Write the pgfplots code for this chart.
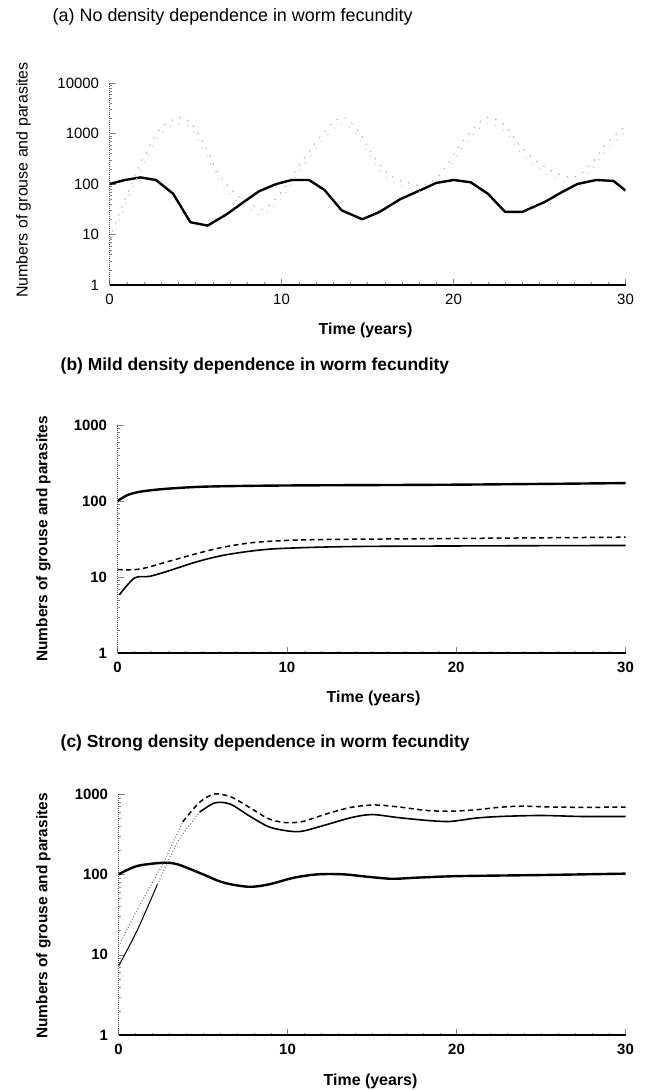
\documentclass[border=0pt]{standalone}
\usepackage{pgfplots}
\pgfplotsset{compat=1.18}
\usepackage{fontspec}
\setmainfont{Liberation Sans}
\begin{document}
\pgfplotsset{
  every axis/.append style={
    scale only axis, xmin=0, xmax=30, ymode=log,
    axis x line*=bottom, axis y line*=left,
    xtick={0,10,20,30}, xticklabels={0,10,20,30},
    minor x tick num=9, tick align=inside,
    major tick length=6bp, minor tick length=2.5bp,
    x axis line style={line width=1.6bp},
    y axis line style={densely dotted, line width=1bp, black!70},
    xticklabel style={yshift=-6bp},
    yticklabel style={xshift=-7bp},
  },
}
\tikzset{
  grouse/.style={black, line width=2.4bp, line join=round},
  psolid/.style={black, line width=1.6bp, line join=round},
  pdash/.style={black, line width=1.5bp, dash pattern=on 5bp off 3.5bp},
  pfaint/.style={black!35, line width=0.9bp, dash pattern=on 1.5bp off 7bp},
}
\begin{tikzpicture}
\path[use as bounding box] (0,0) rectangle (643bp,1090bp);

% ---------------- (a) ----------------
\begin{axis}[at={(104bp,805bp)}, anchor=south west,
  width=516bp, height=202bp, ymin=1, ymax=10000,
  ytick={1,10,100,1000,10000}, yticklabels={1,10,100,1000,10000},
  ticklabel style={font=\fontsize{15}{17}\selectfont}]
\addplot[grouse] coordinates {
(0,100) (0.9,120) (1.8,135) (2.7,120) (3.7,64) (4.7,17.5) (5.7,15) (6.8,25)
(7.8,44) (8.7,72) (9.7,100) (10.6,120) (11.6,120) (12.5,76) (13.5,30) (14.7,20)
(15.7,28) (16.9,50) (18.1,76) (19,105) (20,120) (21,108) (22,64) (23,28) (24,28)
(25.3,44) (26.3,69) (27.2,100) (28.3,120) (29.3,115) (30,74)};
\addplot[pfaint, smooth] coordinates {
(0,8) (1,60) (2,350) (3,1300) (4.1,2100) (4.8,1500) (5.5,600) (6.3,170) (7.2,70)
(8.2,40) (9,32) (10,70) (11,230) (12.3,900) (13.5,2100) (14.4,1200) (15.3,380)
(16.3,150) (17.6,100) (18.3,95) (19.2,150) (20.3,550) (21.2,1300) (22,2100)
(23,1450) (23.8,600) (24.6,330) (25.5,200) (26.5,140) (27.3,150) (28.2,300)
(29,700) (30,1400)};
\addplot[black!30, line width=0.8bp, dash pattern=on 1bp off 8bp, smooth] coordinates {
(0,6) (1,45) (2,260) (3,1000) (4.1,1600) (4.8,1150) (5.5,450) (6.3,130) (7.2,52)
(8.2,30) (9,25) (10,52) (11,170) (12.3,680) (13.5,1600) (14.4,900) (15.3,290)
(16.3,115) (17.6,78) (18.3,72) (19.2,115) (20.3,420) (21.2,1000) (22,1600)
(23,1100) (23.8,450) (24.6,250) (25.5,150) (26.5,110) (27.3,115) (28.2,230)
(29,530) (30,1050)};
\end{axis}

% ---------------- (b) ----------------
\begin{axis}[at={(112bp,437bp)}, anchor=south west,
  width=508bp, height=228bp, ymin=1, ymax=1000,
  ytick={1,10,100,1000}, yticklabels={1,10,100,1000},
  ticklabel style={font=\bfseries\fontsize{15}{17}\selectfont}]
\addplot[grouse, smooth] coordinates {
(0,100) (0.6,120) (1.3,132) (2.3,141) (3.5,148) (5.4,155) (10,160) (20,164) (30,172)};
\addplot[pdash, smooth] coordinates {
(0,12.5) (1.3,12.7) (3,16) (4.7,20.4) (6.3,24.8) (8.3,28.8) (11.4,30.9) (17.3,31.8) (30,33.4)};
\addplot[psolid, smooth] coordinates {
(0.1,5.8) (1,9.7) (1.9,10.2) (3,12) (4.7,15.9) (6.3,19.4) (8.3,22.5) (10.2,24) (15,25.3) (30,26)};
\end{axis}

% ---------------- (c) ----------------
\begin{axis}[at={(113bp,55bp)}, anchor=south west,
  width=507bp, height=241bp, ymin=1, ymax=1000,
  ytick={1,10,100,1000}, yticklabels={1,10,100,1000},
  ticklabel style={font=\bfseries\fontsize{15}{17}\selectfont}]
\addplot[grouse, smooth] coordinates {
(0,100) (1.1,127) (2.6,139) (3.5,133) (5,100) (6.2,79) (7.7,70) (8.9,75) (10.4,91)
(11.8,100) (13.3,100) (14.8,93) (16.2,88) (17.7,91) (20.1,95) (25,98) (30,102)};
\addplot[black!55, line width=1bp, dotted, smooth] coordinates {
(0,12.7) (1.1,36) (2.6,133) (3.8,450)};
\addplot[pdash, smooth] coordinates {
(3.8,450) (4.8,790) (5.7,1000) (6.7,910) (7.9,650) (8.9,490) (9.9,440) (10.9,455)
(12.3,565) (13.8,685) (15.2,730) (16.7,685) (18.2,625) (19.6,610) (21.1,635)
(22.6,685) (24,705) (26.2,685) (30,685)};
\addplot[black, line width=1bp, smooth] coordinates {
(0,7.2) (1.1,20) (2.3,75)};
\addplot[black!55, line width=1bp, dotted, smooth] coordinates {
(2.3,75) (3.5,253) (4.8,595)};
\addplot[psolid, smooth] coordinates {
(4.8,595) (5.7,775) (6.6,750) (7.7,540) (8.9,390) (10.1,345) (10.9,345) (12.3,415)
(13.8,510) (15,555) (16.5,510) (18.2,470) (19.6,455) (21.1,500) (22.6,525)
(25,540) (27.4,525) (30,525)};
\end{axis}

% ---------------- texts ----------------
\node[anchor=west, inner sep=0pt, font=\fontsize{18}{21}\selectfont] at (47bp,1073bp)
  {(a) No density dependence in worm fecundity};
\node[anchor=west, inner sep=0pt, font=\bfseries\fontsize{17.5}{21}\selectfont] at (55bp,724bp)
  {(b) Mild density dependence in worm fecundity};
\node[anchor=west, inner sep=0pt, font=\bfseries\fontsize{17.5}{21}\selectfont] at (55bp,347bp)
  {(c) Strong density dependence in worm fecundity};
\node[inner sep=0pt, font=\bfseries\fontsize{16}{18}\selectfont] at (360bp,760bp) {Time (years)};
\node[inner sep=0pt, font=\bfseries\fontsize{16}{18}\selectfont] at (368bp,392bp) {Time (years)};
\node[inner sep=0pt, font=\bfseries\fontsize{16}{18}\selectfont] at (365bp,9bp) {Time (years)};
\node[rotate=90, inner sep=0pt, font=\fontsize{16}{18}\selectfont] at (18bp,910bp)
  {Numbers of grouse and parasites};
\node[rotate=90, inner sep=0pt, font=\bfseries\fontsize{15.5}{18}\selectfont] at (38bp,551bp)
  {Numbers of grouse and parasites};
\node[rotate=90, inner sep=0pt, font=\bfseries\fontsize{15.5}{18}\selectfont] at (38bp,174bp)
  {Numbers of grouse and parasites};
\end{tikzpicture}
\end{document}
